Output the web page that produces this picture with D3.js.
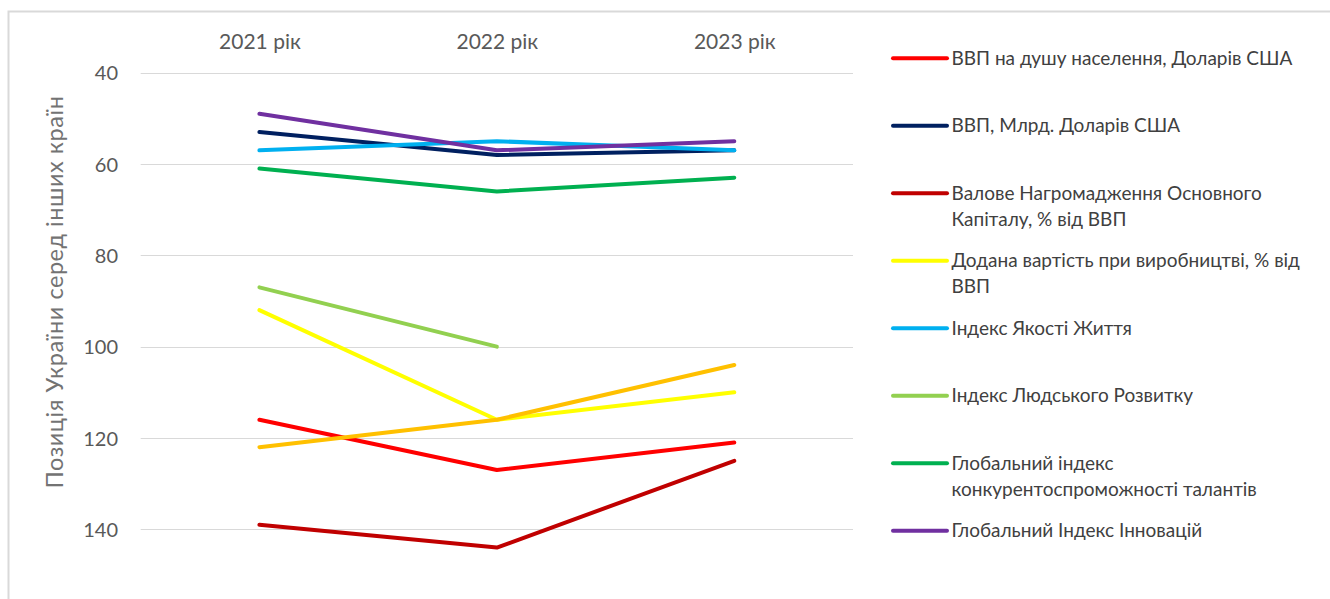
<!DOCTYPE html>
<html>
<head>
<meta charset="utf-8">
<script src="https://cdn.jsdelivr.net/npm/d3@7"></script>
<style>
  html, body { margin: 0; padding: 0; background: #fff; }
  svg { display: block; font-family: Lato, "Open Sans", sans-serif; }
</style>
</head>
<body>
<svg id="chart" width="1330" height="599"></svg>
<script>
// Categories and tick values
const years = ["2021 рік", "2022 рік", "2023 рік"];
const yTicks = [40, 60, 80, 100, 120, 140];

// Rank of Ukraine per indicator (lower is better)
const gdpPerCapita   = [116, 127, 121];
const gdpBillions    = [53, 58, 57];
const fixedCapital   = [139, 144, 125];
const valueAdded     = [92, 116, 110];
const lifeQuality    = [57, 55, 57];
const humanDev       = [87, 100, null];
const talentIndex    = [61, 66, 63];
const innovIndex     = [49, 57, 55];
const extraIndicator = [122, 116, 104];

// Legend labels (lines split for wrapping)
const labels = [
  ["ВВП на душу населення, Доларів США"],
  ["ВВП, Млрд. Доларів США"],
  ["Валове Нагромадження Основного", "Капіталу, % від ВВП"],
  ["Додана вартість при виробництві, % від", "ВВП"],
  ["Індекс Якості Життя"],
  ["Індекс Людського Розвитку"],
  ["Глобальний індекс", "конкурентоспроможності талантів"],
  ["Глобальний Індекс Інновацій"]
];
const colors = ["#FF0000", "#002060", "#C00000", "#FFFF00", "#00B0F0", "#92D050", "#00B050", "#7030A0", "#FFC000"];

const series = [gdpPerCapita, gdpBillions, fixedCapital, valueAdded, lifeQuality,
                humanDev, talentIndex, innovIndex, extraIndicator]
  .map((values, i) => ({ values, color: colors[i], label: labels[i] || null }));

const svg = d3.select("#chart");

// Outer chart frame
svg.append("rect")
  .attr("x", 8.5).attr("y", 11.5)
  .attr("width", 1340).attr("height", 600)
  .attr("fill", "none").attr("stroke", "#d9d9d9").attr("stroke-width", 2);

const x = d3.scalePoint().domain(years).range([140.7, 853]).padding(0.5);
const y = d3.scaleLinear().domain([40, 150]).range([72.7, 575]);

// Horizontal gridlines
svg.append("g").selectAll("line").data(yTicks).join("line")
  .attr("x1", 140.7).attr("x2", 853)
  .attr("y1", d => Math.round(y(d)) + 0.5).attr("y2", d => Math.round(y(d)) + 0.5)
  .attr("stroke", "#d9d9d9").attr("stroke-width", 1);

// Y axis labels
const yAxis = d3.axisLeft(y).tickValues(yTicks).tickSize(0).tickPadding(0);
svg.append("g").attr("transform", "translate(118,0)").call(yAxis)
  .call(g => g.select(".domain").remove())
  .call(g => g.selectAll("text")
    .attr("font-family", "Lato, sans-serif").attr("font-size", 20)
    .attr("fill", "#595959").attr("dy", "0.35em"));

// Category axis on top (reversed value axis)
const xAxis = d3.axisTop(x).tickSize(0).tickPadding(0);
svg.append("g").attr("transform", "translate(0,49)").call(xAxis)
  .call(g => g.select(".domain").remove())
  .call(g => g.selectAll("text")
    .attr("font-family", "Lato, sans-serif").attr("font-size", 21)
    .attr("fill", "#595959").attr("dy", 0));

// Y axis title
svg.append("text")
  .attr("transform", "translate(63,292) rotate(-90)")
  .attr("text-anchor", "middle")
  .attr("font-size", 23.5).attr("letter-spacing", 0.55).attr("fill", "#737373")
  .text("Позиція України серед інших країн");

// Series lines
const line = d3.line()
  .defined(d => d.v != null)
  .x(d => x(d.year)).y(d => y(d.v));

svg.append("g").selectAll("path").data(series).join("path")
  .attr("d", s => line(s.values.map((v, i) => ({ year: years[i], v }))))
  .attr("fill", "none")
  .attr("stroke", s => s.color)
  .attr("stroke-width", 4)
  .attr("stroke-linecap", "round")
  .attr("stroke-linejoin", "round");

// Legend
const legendItems = series.filter(s => s.label);
const lg = svg.append("g").selectAll("g").data(legendItems).join("g")
  .attr("transform", (d, i) => `translate(893,${58.3 + i * 67.5})`);
lg.append("line")
  .attr("x1", 0).attr("x2", 54).attr("y1", 0).attr("y2", 0)
  .attr("stroke", d => d.color).attr("stroke-width", 4).attr("stroke-linecap", "round");
lg.append("text")
  .attr("x", 58.5)
  .attr("font-size", 19).attr("fill", "#404040")
  .selectAll("tspan").data(d => d.label).join("tspan")
  .attr("x", 58.5)
  .attr("y", (t, i) => i * 26)
  .attr("dy", "0.35em")
  .text(t => t);
</script>
</body>
</html>
